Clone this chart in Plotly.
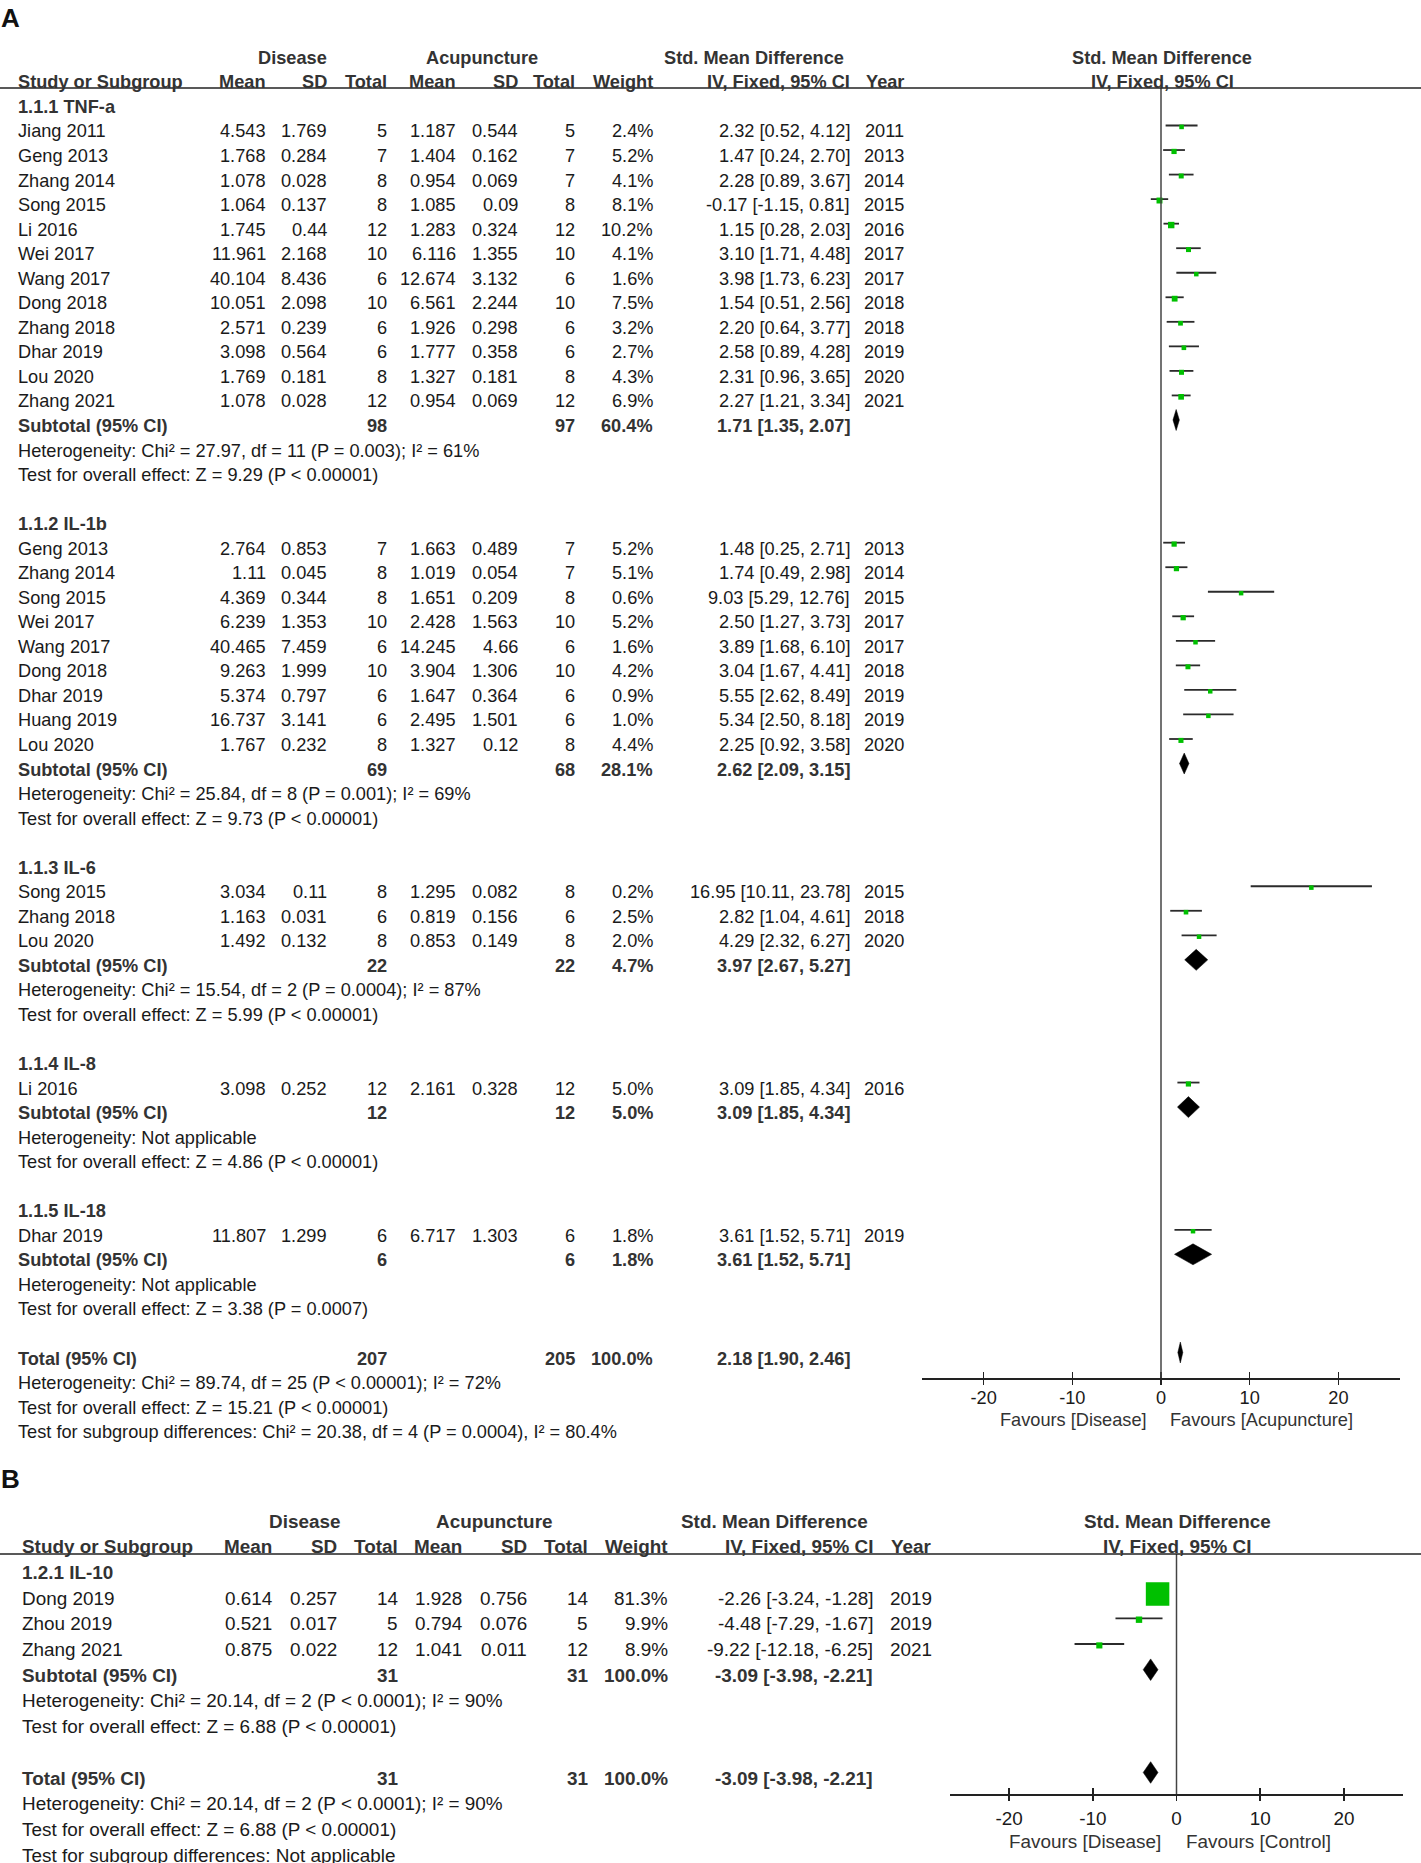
import plotly.graph_objects as go

W, H = 1421, 1863
FONT = "Liberation Sans, Arial, Helvetica, sans-serif"
TXT = "#1a1a1a"
BLD = "#333333"
GREEN = "#00c000"

# ---------------- Panel A data ----------------
A_groups = ["1.1.1 TNF-a", "1.1.2 IL-1b", "1.1.3 IL-6", "1.1.4 IL-8", "1.1.5 IL-18"]
A_group_of = [0] * 12 + [1] * 9 + [2] * 3 + [3] + [4]
A_study = ["Jiang 2011", "Geng 2013", "Zhang 2014", "Song 2015", "Li 2016", "Wei 2017",
           "Wang 2017", "Dong 2018", "Zhang 2018", "Dhar 2019", "Lou 2020", "Zhang 2021",
           "Geng 2013", "Zhang 2014", "Song 2015", "Wei 2017", "Wang 2017", "Dong 2018",
           "Dhar 2019", "Huang 2019", "Lou 2020",
           "Song 2015", "Zhang 2018", "Lou 2020",
           "Li 2016",
           "Dhar 2019"]
A_dis_mean = [4.543, 1.768, 1.078, 1.064, 1.745, 11.961, 40.104, 10.051, 2.571, 3.098, 1.769, 1.078,
              2.764, 1.11, 4.369, 6.239, 40.465, 9.263, 5.374, 16.737, 1.767,
              3.034, 1.163, 1.492,
              3.098,
              11.807]
A_dis_sd = [1.769, 0.284, 0.028, 0.137, 0.44, 2.168, 8.436, 2.098, 0.239, 0.564, 0.181, 0.028,
            0.853, 0.045, 0.344, 1.353, 7.459, 1.999, 0.797, 3.141, 0.232,
            0.11, 0.031, 0.132,
            0.252,
            1.299]
A_dis_n = [5, 7, 8, 8, 12, 10, 6, 10, 6, 6, 8, 12,
           7, 8, 8, 10, 6, 10, 6, 6, 8,
           8, 6, 8,
           12,
           6]
A_acu_mean = [1.187, 1.404, 0.954, 1.085, 1.283, 6.116, 12.674, 6.561, 1.926, 1.777, 1.327, 0.954,
              1.663, 1.019, 1.651, 2.428, 14.245, 3.904, 1.647, 2.495, 1.327,
              1.295, 0.819, 0.853,
              2.161,
              6.717]
A_acu_sd = [0.544, 0.162, 0.069, 0.09, 0.324, 1.355, 3.132, 2.244, 0.298, 0.358, 0.181, 0.069,
            0.489, 0.054, 0.209, 1.563, 4.66, 1.306, 0.364, 1.501, 0.12,
            0.082, 0.156, 0.149,
            0.328,
            1.303]
A_acu_n = [5, 7, 7, 8, 12, 10, 6, 10, 6, 6, 8, 12,
           7, 7, 8, 10, 6, 10, 6, 6, 8,
           8, 6, 8,
           12,
           6]
A_weight = [2.4, 5.2, 4.1, 8.1, 10.2, 4.1, 1.6, 7.5, 3.2, 2.7, 4.3, 6.9,
            5.2, 5.1, 0.6, 5.2, 1.6, 4.2, 0.9, 1.0, 4.4,
            0.2, 2.5, 2.0,
            5.0,
            1.8]
A_smd = [2.32, 1.47, 2.28, -0.17, 1.15, 3.10, 3.98, 1.54, 2.20, 2.58, 2.31, 2.27,
         1.48, 1.74, 9.03, 2.50, 3.89, 3.04, 5.55, 5.34, 2.25,
         16.95, 2.82, 4.29,
         3.09,
         3.61]
A_lo = [0.52, 0.24, 0.89, -1.15, 0.28, 1.71, 1.73, 0.51, 0.64, 0.89, 0.96, 1.21,
        0.25, 0.49, 5.29, 1.27, 1.68, 1.67, 2.62, 2.50, 0.92,
        10.11, 1.04, 2.32,
        1.85,
        1.52]
A_hi = [4.12, 2.70, 3.67, 0.81, 2.03, 4.48, 6.23, 2.56, 3.77, 4.28, 3.65, 3.34,
        2.71, 2.98, 12.76, 3.73, 6.10, 4.41, 8.49, 8.18, 3.58,
        23.78, 4.61, 6.27,
        4.34,
        5.71]
A_year = [2011, 2013, 2014, 2015, 2016, 2017, 2017, 2018, 2018, 2019, 2020, 2021,
          2013, 2014, 2015, 2017, 2017, 2018, 2019, 2019, 2020,
          2015, 2018, 2020,
          2016,
          2019]
A_sub_dis_n = [98, 69, 22, 12, 6]
A_sub_acu_n = [97, 68, 22, 12, 6]
A_sub_weight = [60.4, 28.1, 4.7, 5.0, 1.8]
A_sub_smd = [1.71, 2.62, 3.97, 3.09, 3.61]
A_sub_lo = [1.35, 2.09, 2.67, 1.85, 1.52]
A_sub_hi = [2.07, 3.15, 5.27, 4.34, 5.71]
A_sub_het = ["Heterogeneity: Chi² = 27.97, df = 11 (P = 0.003); I² = 61%",
             "Heterogeneity: Chi² = 25.84, df = 8 (P = 0.001); I² = 69%",
             "Heterogeneity: Chi² = 15.54, df = 2 (P = 0.0004); I² = 87%",
             "Heterogeneity: Not applicable",
             "Heterogeneity: Not applicable"]
A_sub_test = ["Test for overall effect: Z = 9.29 (P < 0.00001)",
              "Test for overall effect: Z = 9.73 (P < 0.00001)",
              "Test for overall effect: Z = 5.99 (P < 0.00001)",
              "Test for overall effect: Z = 4.86 (P < 0.00001)",
              "Test for overall effect: Z = 3.38 (P = 0.0007)"]
A_tot_n = [207, 205]
A_tot_weight = 100.0
A_tot_est = [2.18, 1.90, 2.46]
A_tot_lines = ["Heterogeneity: Chi² = 89.74, df = 25 (P < 0.00001); I² = 72%",
               "Test for overall effect: Z = 15.21 (P < 0.00001)",
               "Test for subgroup differences: Chi² = 20.38, df = 4 (P = 0.0004), I² = 80.4%"]
A_favours = ["Favours [Disease]", "Favours [Acupuncture]"]

# ---------------- Panel B data ----------------
B_groups = ["1.2.1 IL-10"]
B_group_of = [0, 0, 0]
B_study = ["Dong 2019", "Zhou 2019", "Zhang 2021"]
B_dis_mean = [0.614, 0.521, 0.875]
B_dis_sd = [0.257, 0.017, 0.022]
B_dis_n = [14, 5, 12]
B_acu_mean = [1.928, 0.794, 1.041]
B_acu_sd = [0.756, 0.076, 0.011]
B_acu_n = [14, 5, 12]
B_weight = [81.3, 9.9, 8.9]
B_smd = [-2.26, -4.48, -9.22]
B_lo = [-3.24, -7.29, -12.18]
B_hi = [-1.28, -1.67, -6.25]
B_year = [2019, 2019, 2021]
B_sub_dis_n = [31]
B_sub_acu_n = [31]
B_sub_weight = [100.0]
B_sub_smd = [-3.09]
B_sub_lo = [-3.98]
B_sub_hi = [-2.21]
B_sub_het = ["Heterogeneity: Chi² = 20.14, df = 2 (P < 0.0001); I² = 90%"]
B_sub_test = ["Test for overall effect: Z = 6.88 (P < 0.00001)"]
B_tot_n = [31, 31]
B_tot_weight = 100.0
B_tot_est = [-3.09, -3.98, -2.21]
B_tot_lines = ["Heterogeneity: Chi² = 20.14, df = 2 (P < 0.0001); I² = 90%",
               "Test for overall effect: Z = 6.88 (P < 0.00001)",
               "Test for subgroup differences: Not applicable"]
B_favours = ["Favours [Disease]", "Favours [Control]"]

TICKS = [-20, -10, 0, 10, 20]
TICK_TEXT = ["-20", "-10", "0", "10", "20"]

fig = go.Figure()
ann = []
shapes = []
layout_axes = {}


def T(x, y, s, anchor="left", size=18, bold=False, color=None):
    ann.append(dict(xref="paper", yref="paper", x=x / W, y=1 - y / H,
                    text=f"<b>{s}</b>" if bold else s, showarrow=False,
                    xanchor=anchor, yanchor="middle", borderpad=0,
                    font=dict(family=FONT, size=size, color=color or (BLD if bold else TXT))))


def ci(m, l, h):
    return f"{m:.2f} [{l:.2f}, {h:.2f}]"


def panel(D, G, xa, ya, xa2):
    y3, dy, fs = G["y3"], G["dy"], G["fs"]
    py = lambda r: y3 + (r - 3) * dy
    c = G["cols"]
    nx = G["name_x"]
    T(0, G["label_y"], G["label"], "left", 26, True, "#111")
    T(G["dis_c"], py(0), "Disease", "center", fs, True)
    T(G["acu_c"], py(0), "Acupuncture", "center", fs, True)
    T(G["smd_c"], py(0), "Std. Mean Difference", "center", fs, True)
    T(G["plot_c"], py(0), "Std. Mean Difference", "center", fs, True)
    T(nx, py(1), "Study or Subgroup", "left", fs, True)
    for x, s in zip(c, ["Mean", "SD", "Total", "Mean", "SD", "Total", "Weight",
                        "IV, Fixed, 95% CI", "Year"]):
        T(x, py(1), s, "right", fs, True)
    T(G["plot_c"], py(1), "IV, Fixed, 95% CI", "center", fs, True)

    ci_x, ci_y, sq_x, sq_y, sq_s = [], [], [], [], []
    diamonds = []
    off = G["mark_off"] / dy
    r = 2
    for g, gname in enumerate(D["groups"]):
        T(nx, py(r), gname, "left", fs, True)
        r += 1
        for i, gi in enumerate(D["group_of"]):
            if gi != g:
                continue
            vals = [str(D["dis_mean"][i]), str(D["dis_sd"][i]), str(D["dis_n"][i]),
                    str(D["acu_mean"][i]), str(D["acu_sd"][i]), str(D["acu_n"][i]),
                    f"{D['weight'][i]:.1f}%", ci(D["smd"][i], D["lo"][i], D["hi"][i]),
                    str(D["year"][i])]
            T(nx, py(r), D["study"][i], "left", fs)
            for x, s in zip(c, vals):
                T(x, py(r), s, "right", fs)
            ci_x += [D["lo"][i], D["hi"][i], None]
            ci_y += [r + off, r + off, None]
            sq_x.append(D["smd"][i])
            sq_y.append(r + off + 1.4 / dy)
            sq_s.append(max(4.5, 4 + 0.24 * D["weight"][i]))
            r += 1
        T(nx, py(r), "Subtotal (95% CI)", "left", fs, True)
        T(c[2], py(r), str(D["sub_dis_n"][g]), "right", fs, True)
        T(c[5], py(r), str(D["sub_acu_n"][g]), "right", fs, True)
        T(c[6], py(r), f"{D['sub_weight'][g]:.1f}%", "right", fs, True)
        T(c[7], py(r), ci(D["sub_smd"][g], D["sub_lo"][g], D["sub_hi"][g]), "right", fs, True)
        diamonds.append((D["sub_smd"][g], D["sub_lo"][g], D["sub_hi"][g], r + off))
        r += 1
        T(nx, py(r), D["sub_het"][g], "left", fs)
        r += 1
        T(nx, py(r), D["sub_test"][g], "left", fs)
        r += 2
    T(nx, py(r), "Total (95% CI)", "left", fs, True)
    T(c[2], py(r), str(D["tot_n"][0]), "right", fs, True)
    T(c[5], py(r), str(D["tot_n"][1]), "right", fs, True)
    T(c[6], py(r), f"{D['tot_weight']:.1f}%", "right", fs, True)
    m, l, h = D["tot_est"]
    T(c[7], py(r), ci(m, l, h), "right", fs, True)
    diamonds.append((m, l, h, r + off))
    for line in D["tot_lines"]:
        r += 1
        T(nx, py(r), line, "left", fs)

    yref = "y" if ya == "yaxis" else "y" + ya[5:]
    xref = "x" if xa == "xaxis" else "x" + xa[5:]
    xref2 = "x" + xa2[5:]

    fig.add_trace(go.Scatter(x=ci_x, y=ci_y, mode="lines", xaxis=xref, yaxis=yref,
                             line=dict(color="#2b2b2b", width=1.8), hoverinfo="skip",
                             showlegend=False))
    hh = G["dia_h"] / dy
    for m, l, h, yy in diamonds:
        fig.add_trace(go.Scatter(x=[l, m, h, m, l], y=[yy, yy - hh, yy, yy + hh, yy],
                                 mode="lines", fill="toself", fillcolor="black",
                                 line=dict(color="black", width=0.5), xaxis=xref, yaxis=yref,
                                 hoverinfo="skip", showlegend=False))
    fig.add_trace(go.Scatter(x=sq_x, y=sq_y, mode="markers", xaxis=xref, yaxis=yref,
                             marker=dict(symbol="square", size=sq_s, color=GREEN,
                                         opacity=1, line=dict(width=0)),
                             hoverinfo="skip", showlegend=False))
    fig.add_trace(go.Scatter(x=[None], y=[None], xaxis=xref2, yaxis=yref,
                             showlegend=False, hoverinfo="skip"))

    rng = [(G["ax_l"] - G["zero"]) / G["unit"], (G["ax_r"] - G["zero"]) / G["unit"]]
    pos = 1 - G["axis_y"] / H
    common = dict(domain=[G["ax_l"] / W, G["ax_r"] / W], range=rng, anchor="free",
                  position=pos, showgrid=False, zeroline=False, fixedrange=True,
                  tickvals=TICKS, ticktext=TICK_TEXT, tickwidth=1.5, tickcolor="#222",
                  ticklen=6)
    layout_axes[xa] = dict(common, showline=True, linecolor="#222", linewidth=1.5,
                           ticks="inside", ticklabelstandoff=G["standoff"],
                           tickfont=dict(family=FONT, size=fs, color=TXT))
    layout_axes[xa2] = dict(common, overlaying=xref, ticks="outside", showline=False,
                            showticklabels=False)
    top = 3 - y3 / dy
    bot = 3 + (H - y3) / dy
    layout_axes[ya] = dict(domain=[0, 1], range=[bot, top], visible=False, fixedrange=True)

    shapes.append(dict(type="line", xref=xref, yref="paper", x0=0, x1=0,
                       y0=1 - G["head_y"] / H, y1=1 - G["axis_y"] / H,
                       line=dict(color="#444", width=1.5)))
    shapes.append(dict(type="line", xref="paper", yref="paper", x0=0, x1=1,
                       y0=1 - G["head_y"] / H, y1=1 - G["head_y"] / H,
                       line=dict(color="#222", width=1.5)))
    T(G["fav_l"], G["fav_y"], D["favours"][0], "right", fs, False, "#333")
    T(G["fav_r"], G["fav_y"], D["favours"][1], "left", fs, False, "#333")


DA = dict(groups=A_groups, group_of=A_group_of, study=A_study, dis_mean=A_dis_mean,
          dis_sd=A_dis_sd, dis_n=A_dis_n, acu_mean=A_acu_mean, acu_sd=A_acu_sd,
          acu_n=A_acu_n, weight=A_weight, smd=A_smd, lo=A_lo, hi=A_hi, year=A_year,
          sub_dis_n=A_sub_dis_n, sub_acu_n=A_sub_acu_n, sub_weight=A_sub_weight,
          sub_smd=A_sub_smd, sub_lo=A_sub_lo, sub_hi=A_sub_hi, sub_het=A_sub_het,
          sub_test=A_sub_test, tot_n=A_tot_n, tot_weight=A_tot_weight,
          tot_est=A_tot_est, tot_lines=A_tot_lines, favours=A_favours)
GA = dict(label="A", label_y=18, y3=131.5, dy=24.54, fs=18.2, name_x=16.5,
          cols=[267, 328, 388, 457, 519, 576, 654, 851, 905],
          dis_c=292, acu_c=482, smd_c=754, plot_c=1162,
          head_y=88, axis_y=1378, ax_l=922, ax_r=1400, zero=1161, unit=8.87,
          mark_off=-6, dia_h=10.5, fav_l=1148, fav_r=1169, fav_y=1420, standoff=3)

DB = dict(groups=B_groups, group_of=B_group_of, study=B_study, dis_mean=B_dis_mean,
          dis_sd=B_dis_sd, dis_n=B_dis_n, acu_mean=B_acu_mean, acu_sd=B_acu_sd,
          acu_n=B_acu_n, weight=B_weight, smd=B_smd, lo=B_lo, hi=B_hi, year=B_year,
          sub_dis_n=B_sub_dis_n, sub_acu_n=B_sub_acu_n, sub_weight=B_sub_weight,
          sub_smd=B_sub_smd, sub_lo=B_sub_lo, sub_hi=B_sub_hi, sub_het=B_sub_het,
          sub_test=B_sub_test, tot_n=B_tot_n, tot_weight=B_tot_weight,
          tot_est=B_tot_est, tot_lines=B_tot_lines, favours=B_favours)
GB = dict(label="B", label_y=1479, y3=1598.1, dy=25.70, fs=18.9, name_x=21,
          cols=[273, 338, 399, 463, 528, 589, 669, 874, 933],
          dis_c=304, acu_c=495, smd_c=774, plot_c=1177,
          head_y=1554, axis_y=1794, ax_l=950, ax_r=1403, zero=1176.5, unit=8.37,
          mark_off=-5.5, dia_h=10.8, fav_l=1162, fav_r=1185, fav_y=1841, standoff=7)

panel(DA, GA, "xaxis", "yaxis", "xaxis3")
panel(DB, GB, "xaxis2", "yaxis2", "xaxis4")

fig.update_layout(width=W, height=H, margin=dict(l=0, r=0, t=0, b=0, pad=0),
                  paper_bgcolor="white", plot_bgcolor="rgba(0,0,0,0)",
                  showlegend=False, annotations=ann, shapes=shapes,
                  font=dict(family=FONT, size=18, color=TXT), **layout_axes)

fig.write_html("out.html", config={"displayModeBar": False, "staticPlot": True},
               post_script="document.body.style.margin='0px';"
                           "document.body.style.padding='0px';"
                           "document.documentElement.style.overflow='hidden';")
